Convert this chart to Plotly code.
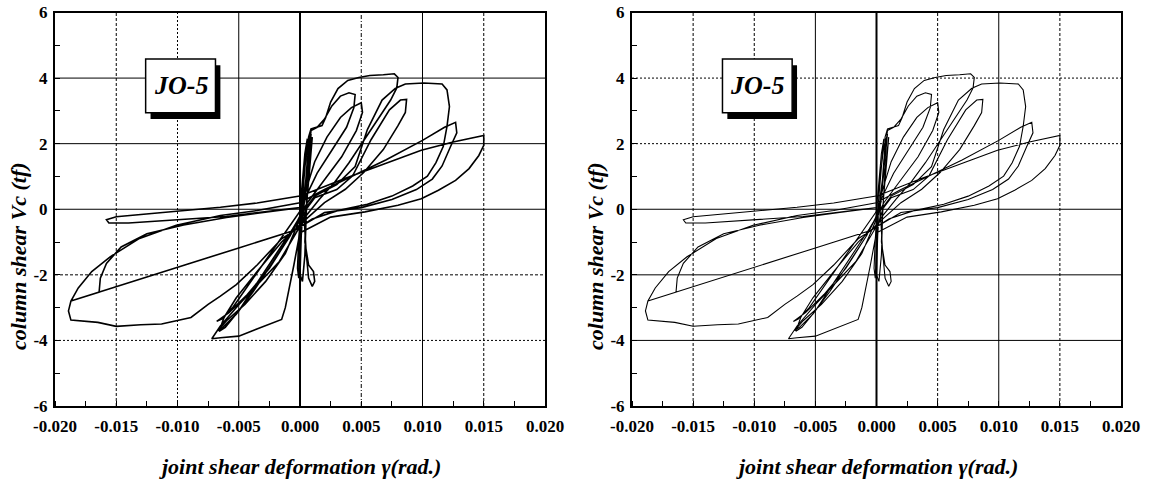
import plotly.graph_objects as go

# ---------------- data, one small list per cycle ----------------
# small elastic cycles around the origin
gamma_elastic = [0.0000, 0.0002, 0.0004, 0.0006, 0.0004, 0.0001, -0.0001, -0.0002, -0.0001, 0.0000,
                 0.0001, 0.0003, 0.0006, 0.0009, 0.0007, 0.0003, 0.0001, 0.0000, 0.0002, 0.0004,
                 0.0005, 0.0007, 0.0010, 0.0008, 0.0005, 0.0004, 0.0007, 0.0011, 0.0012, 0.0010,
                 0.0007, 0.0005, 0.0003]
vc_elastic = [0.00, 0.90, 1.70, 2.15, 1.30, 0.20, -0.90, -1.80, -2.10, -1.20,
              -0.10, 1.00, 1.90, 2.30, 1.50, 0.40, -0.80, -2.00, -2.20, -1.40,
              -0.20, 1.20, 2.20, 1.30, 0.00, -1.00, -1.70, -1.90, -2.20, -2.35,
              -2.10, -1.30, 0.00]

# cycle with positive peak near +0.0045
gamma_c1 = [0.0006, 0.0009, 0.0014, 0.0020, 0.0026, 0.0033, 0.0040, 0.0045, 0.0044, 0.0038,
            0.0026, 0.0014, 0.0005, 0.0000, -0.0012, -0.0028, -0.0045, -0.0060, -0.0067, -0.0063,
            -0.0052, -0.0038, -0.0022, -0.0008, 0.0000]
vc_c1 = [1.50, 2.40, 2.50, 2.75, 3.15, 3.45, 3.55, 3.50, 3.10, 2.50,
         1.80, 1.10, 0.40, -0.30, -1.35, -2.20, -2.90, -3.40, -3.70, -3.60,
         -3.20, -2.50, -1.60, -0.80, -0.20]

# cycle with positive peak near +0.005
gamma_c2 = [0.0005, 0.0012, 0.0022, 0.0033, 0.0042, 0.0050, 0.0051, 0.0046, 0.0034, 0.0020,
            0.0006, -0.0008, -0.0025, -0.0043, -0.0058, -0.0068, -0.0064, -0.0055, -0.0042, -0.0025,
            -0.0010, 0.0003]
vc_c2 = [0.60, 1.45, 2.20, 2.80, 3.10, 3.25, 2.95, 2.40, 1.60, 0.90,
         0.20, -0.80, -1.80, -2.60, -3.15, -3.42, -3.35, -3.00, -2.30, -1.40,
         -0.60, 0.10]

# envelope cycle: peak 4.1 tf at +0.0078, -3.95 tf at -0.0072
gamma_c3 = [0.0006, 0.0007, 0.0009, 0.0018, 0.0021, 0.0025, 0.0031, 0.0039, 0.0048, 0.0057,
            0.0068, 0.0077, 0.0080, 0.0079, 0.0074, 0.0065, 0.0052, 0.0040, 0.0028, 0.0016,
            0.0005, -0.0003, -0.0017, -0.0035, -0.0050, -0.0065, -0.0072, -0.0065, -0.0050, -0.0015,
            -0.0012, -0.0005, 0.0000, 0.0005]
vc_c3 = [1.10, 2.20, 2.45, 2.55, 2.80, 3.27, 3.68, 3.93, 4.02, 4.08,
         4.10, 4.13, 4.02, 3.70, 3.33, 2.83, 2.12, 1.42, 0.81, 0.31,
         -0.20, -0.70, -1.60, -2.31, -2.91, -3.56, -3.95, -3.92, -3.87, -3.36,
         -3.00, -1.70, -0.70, 0.00]

# cycle with positive peak near +0.0087
gamma_c4 = [0.0012, 0.0030, 0.0043, 0.0058, 0.0073, 0.0082, 0.0087, 0.0086, 0.0080, 0.0068,
            0.0052, 0.0037, 0.0020, 0.0005, -0.0015, -0.0035, -0.0052, -0.0062, -0.0066, -0.0061,
            -0.0050, -0.0036, -0.0020, -0.0006, 0.0002]
vc_c4 = [0.35, 0.60, 1.02, 2.12, 3.03, 3.33, 3.35, 2.95, 2.55, 1.82,
         1.12, 0.61, 0.20, -0.30, -1.00, -1.90, -2.70, -3.30, -3.72, -3.60,
         -3.10, -2.30, -1.40, -0.60, -0.10]

# large cycle: +0.012 / -0.0187
gamma_c5 = [0.0012, 0.0030, 0.0045, 0.0055, 0.0067, 0.0078, 0.0086, 0.0101, 0.0116, 0.0120,
            0.0122, 0.0120, 0.0117, 0.0111, 0.0104, 0.0092, 0.0075, 0.0055, 0.0030, 0.0010,
            -0.0015, -0.0035, -0.0052, -0.0065, -0.0075, -0.0089, -0.0113, -0.0130, -0.0150, -0.0165,
            -0.0187, -0.0189, -0.0187, -0.0181, -0.0170, -0.0155, -0.0131, -0.0101, -0.0065, -0.0035,
            0.0000]
vc_c5 = [0.40, 0.75, 1.30, 2.43, 3.33, 3.69, 3.82, 3.85, 3.82, 3.64,
         3.13, 2.53, 1.92, 1.42, 1.01, 0.71, 0.40, 0.15, -0.05, -0.30,
         -0.90, -1.70, -2.30, -2.65, -2.90, -3.30, -3.50, -3.52, -3.57, -3.45,
         -3.38, -3.10, -2.80, -2.40, -1.90, -1.45, -0.89, -0.49, -0.19, -0.04,
         0.20]

# cycle: +0.0127 / -0.0164
gamma_c6 = [0.0020, 0.0040, 0.0070, 0.0100, 0.0118, 0.0127, 0.0128, 0.0123, 0.0116, 0.0108,
            0.0095, 0.0075, 0.0050, 0.0020, -0.0005, -0.0050, -0.0090, -0.0130, -0.0164, -0.0187,
            -0.0164, -0.0163, -0.0158, -0.0146, -0.0125, -0.0095, -0.0060, -0.0030, 0.0000]
vc_c6 = [0.60, 0.95, 1.50, 2.10, 2.50, 2.65, 2.33, 1.92, 1.32, 0.92,
         0.60, 0.30, 0.05, -0.10, -0.65, -1.18, -1.65, -2.13, -2.53, -2.80,
         -2.53, -2.10, -1.65, -1.15, -0.75, -0.48, -0.25, -0.10, 0.05]

# last cycle: +0.015
gamma_c7 = [-0.0060, -0.0105, -0.0140, -0.0156, -0.0158, -0.0150, -0.0110, -0.0065, -0.0035, 0.0001,
            0.0036, 0.0072, 0.0099, 0.0125, 0.0150, 0.0150, 0.0146, 0.0138, 0.0127, 0.0113,
            0.0099, 0.0080, 0.0053, 0.0025, 0.0001]
vc_c7 = [-0.22, -0.33, -0.42, -0.42, -0.32, -0.23, -0.09, 0.06, 0.19, 0.41,
         0.93, 1.44, 1.80, 2.05, 2.25, 1.95, 1.64, 1.24, 0.88, 0.58,
         0.32, 0.12, -0.08, -0.24, -0.70]

gamma = gamma_elastic + gamma_c1 + gamma_c2 + gamma_c3 + gamma_c4 + gamma_c5 + gamma_c6 + gamma_c7
vc = vc_elastic + vc_c1 + vc_c2 + vc_c3 + vc_c4 + vc_c5 + vc_c6 + vc_c7

x_tickvals = [-0.020, -0.015, -0.010, -0.005, 0.000, 0.005, 0.010, 0.015, 0.020]
x_ticktext = ["-0.020", "-0.015", "-0.010", "-0.005", "0.000", "0.005", "0.010", "0.015", "0.020"]
y_tickvals = [-6, -4, -2, 0, 2, 4, 6]
y_ticktext = ["-6", "-4", "-2", "0", "2", "4", "6"]

panel_label = "JO-5"
x_title = "joint shear deformation γ(rad.)"
y_title = "column shear Vc (tf)"

# ---------------- figure ----------------
W, H = 1149, 484
SERIF = "Liberation Serif, Times New Roman, serif"

fig = go.Figure()

panels = [
    dict(xa="x", ya="y", xdom=[55 / W, 545 / W], width=1.6),
    dict(xa="x2", ya="y2", xdom=[632 / W, 1121 / W], width=1.1),
]
ydom = [1 - 406 / H, 1 - 12.5 / H]

grid_styles = [
    ({-0.015: "3px,2px", -0.010: "2px,2px", -0.005: "solid", 0.0: "solid", 0.005: "4px,2px,1px,2px",
      0.010: "solid", 0.015: "3px,2px"},
     {4: "solid", 2: "solid", 0: "solid", -2: "3px,2px", -4: "2px,2px"}),
    ({-0.015: "3px,2px", -0.010: "3px,2px", -0.005: "solid", 0.0: "solid", 0.005: "3px,2px",
      0.010: "solid", 0.015: "3px,2px"},
     {4: "2px,2px", 2: "2px,2px", 0: "solid", -2: "solid", -4: "solid"}),
]

shapes = []
annotations = []
for i, p in enumerate(panels):
    fig.add_trace(go.Scatter(
        x=gamma, y=vc, mode="lines",
        line=dict(color="black", width=p["width"]),
        xaxis=p["xa"], yaxis=p["ya"], showlegend=False, hoverinfo="skip",
    ))
    xref, yref = p["xa"], p["ya"]
    vdash, hdash = grid_styles[i]
    for gx, d in vdash.items():
        shapes.append(dict(type="line", xref=xref, yref=yref, x0=gx, x1=gx, y0=-6, y1=6,
                           line=dict(color="black", width=2 if gx == 0 else 1, dash=d), layer="below"))
    for gy, d in hdash.items():
        shapes.append(dict(type="line", xref=xref, yref=yref, x0=-0.02, x1=0.02, y0=gy, y1=gy,
                           line=dict(color="black", width=1, dash=d), layer="below"))
    # label box with drop shadow
    bx0, bx1, by0, by1 = -0.0126, -0.0069, 2.94, 4.58
    shapes.append(dict(type="rect", xref=xref, yref=yref, x0=bx0 + 0.0004, x1=bx1 + 0.0004,
                       y0=by0 - 0.19, y1=by1 - 0.19, fillcolor="black", line=dict(width=0), layer="above"))
    shapes.append(dict(type="rect", xref=xref, yref=yref, x0=bx0, x1=bx1, y0=by0, y1=by1,
                       fillcolor="white", line=dict(color="black", width=1.5), layer="above"))
    annotations.append(dict(x=(bx0 + bx1) / 2, y=(by0 + by1) / 2, xref=xref, yref=yref,
                            xanchor="center", yanchor="middle",
                            text=f"<b><i>{panel_label}</i></b>", showarrow=False,
                            font=dict(family=SERIF, size=26, color="black")))
    # axis titles
    cx = (p["xdom"][0] + p["xdom"][1]) / 2
    annotations.append(dict(x=cx, y=1 - 466 / H, xref="paper", yref="paper",
                            xanchor="center", yanchor="middle",
                            text=f"<b><i>{x_title}</i></b>", showarrow=False,
                            font=dict(family=SERIF, size=22, color="black")))
    annotations.append(dict(x=p["xdom"][0] - 37 / W, y=1 - 256 / H, xref="paper", yref="paper",
                            xanchor="center", yanchor="middle",
                            text=f"<b><i>{y_title}</i></b>", showarrow=False, textangle=-90,
                            font=dict(family=SERIF, size=22, color="black")))

axis_common = dict(showgrid=False, zeroline=False, showline=True, linecolor="black", linewidth=2,
                   mirror=True, ticks="", automargin=False,
                   tickfont=dict(family=SERIF, size=17, color="black", weight="bold"))

layout_axes = {}
for i, p in enumerate(panels):
    sx = "" if i == 0 else "2"
    layout_axes["xaxis" + sx] = dict(
        axis_common, domain=p["xdom"], range=[-0.02, 0.02], anchor="y" + sx,
        tickvals=x_tickvals, ticktext=x_ticktext, ticklabelstandoff=4,
        minor=dict(ticks="inside", ticklen=5, dtick=0.0025, tick0=0, tickcolor="black", tickwidth=1),
    )
    layout_axes["yaxis" + sx] = dict(
        axis_common, domain=ydom, range=[-6, 6], anchor="x" + sx,
        tickvals=y_tickvals, ticktext=y_ticktext, ticklabelstandoff=2,
        minor=dict(ticks="inside", ticklen=5, dtick=1, tick0=0, tickcolor="black", tickwidth=1),
    )

fig.update_layout(
    width=W, height=H, margin=dict(l=0, r=0, t=0, b=0),
    paper_bgcolor="white", plot_bgcolor="white",
    shapes=shapes, annotations=annotations, **layout_axes,
)

fig.write_html("out.html", config={"displayModeBar": False, "staticPlot": True},
               post_script="document.body.style.margin='0';document.body.style.overflow='hidden';")
